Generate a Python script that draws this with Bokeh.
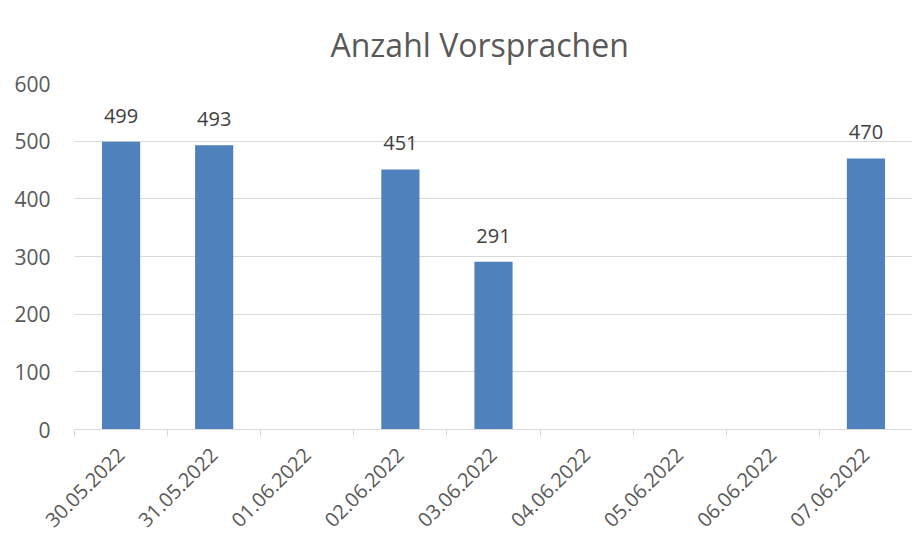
import math
from bokeh.plotting import figure
from bokeh.models import ColumnDataSource, FixedTicker, Range1d, Title
from bokeh.embed import file_html
from bokeh.resources import INLINE
from bokeh.core.properties import value

title_text = "Anzahl Vorsprachen"
categories = ["30.05.2022", "31.05.2022", "01.06.2022", "02.06.2022", "03.06.2022",
              "04.06.2022", "05.06.2022", "06.06.2022", "07.06.2022"]
values = [499, 493, None, 451, 291, None, None, None, 470]
y_ticks = [0, 100, 200, 300, 400, 500, 600]

FONT = "Open Sans"
TXT = "#595959"
BAR = "#4F81BD"
GRID = "#D9D9D9"

xs = [i for i, v in enumerate(values) if v is not None]
vs = [v for v in values if v is not None]
src = ColumnDataSource(dict(x=xs, top=vs, label=[str(v) for v in vs]))

p = figure(width=912, height=536, output_backend="svg", toolbar_location=None,
           x_range=Range1d(-0.5, len(categories) - 0.5), y_range=Range1d(0, 600),
           min_border_left=74, min_border_right=0, min_border_top=83, min_border_bottom=106)
p.outline_line_color = None
p.title = None
t = Title(text=title_text, text_font=FONT, text_font_size="32px", text_color=TXT,
          text_font_style="normal", align="left", offset=256, standoff=36)
p.add_layout(t, "above")

p.vbar(x="x", top="top", width=0.41, bottom=0, source=src, fill_color=BAR, line_color=None)
p.text(x="x", y="top", text="label", source=src, text_font=value(FONT), text_font_size="20px",
       text_color="#404040", text_align="center", text_baseline="bottom", y_offset=-19)

# x axis
p.xaxis.ticker = FixedTicker(ticks=list(range(len(categories))),
                             minor_ticks=[i - 0.5 for i in range(len(categories) + 1)])
p.xaxis.major_label_overrides = {i: c for i, c in enumerate(categories)}
p.xaxis.major_label_orientation = math.pi / 4
p.xaxis.major_tick_out = 0
p.xaxis.major_tick_in = 0
p.xaxis.minor_tick_out = 7
p.xaxis.minor_tick_in = 0
p.xaxis.minor_tick_line_color = GRID
p.xaxis.axis_line_color = GRID
p.xaxis.major_label_text_font = FONT
p.xaxis.major_label_text_font_size = "20px"
p.xaxis.major_label_text_color = TXT
p.xaxis.major_label_standoff = 15
p.xgrid.grid_line_color = None

# y axis
p.yaxis.ticker = FixedTicker(ticks=y_ticks)
p.yaxis.axis_line_color = None
p.yaxis.major_tick_line_color = None
p.yaxis.minor_tick_line_color = None
p.yaxis.major_label_text_font = FONT
p.yaxis.major_label_text_font_size = "21px"
p.yaxis.major_label_text_color = TXT
p.yaxis.major_label_standoff = 18
p.ygrid.grid_line_color = GRID

open("out.html", "w").write(file_html(p, INLINE))
